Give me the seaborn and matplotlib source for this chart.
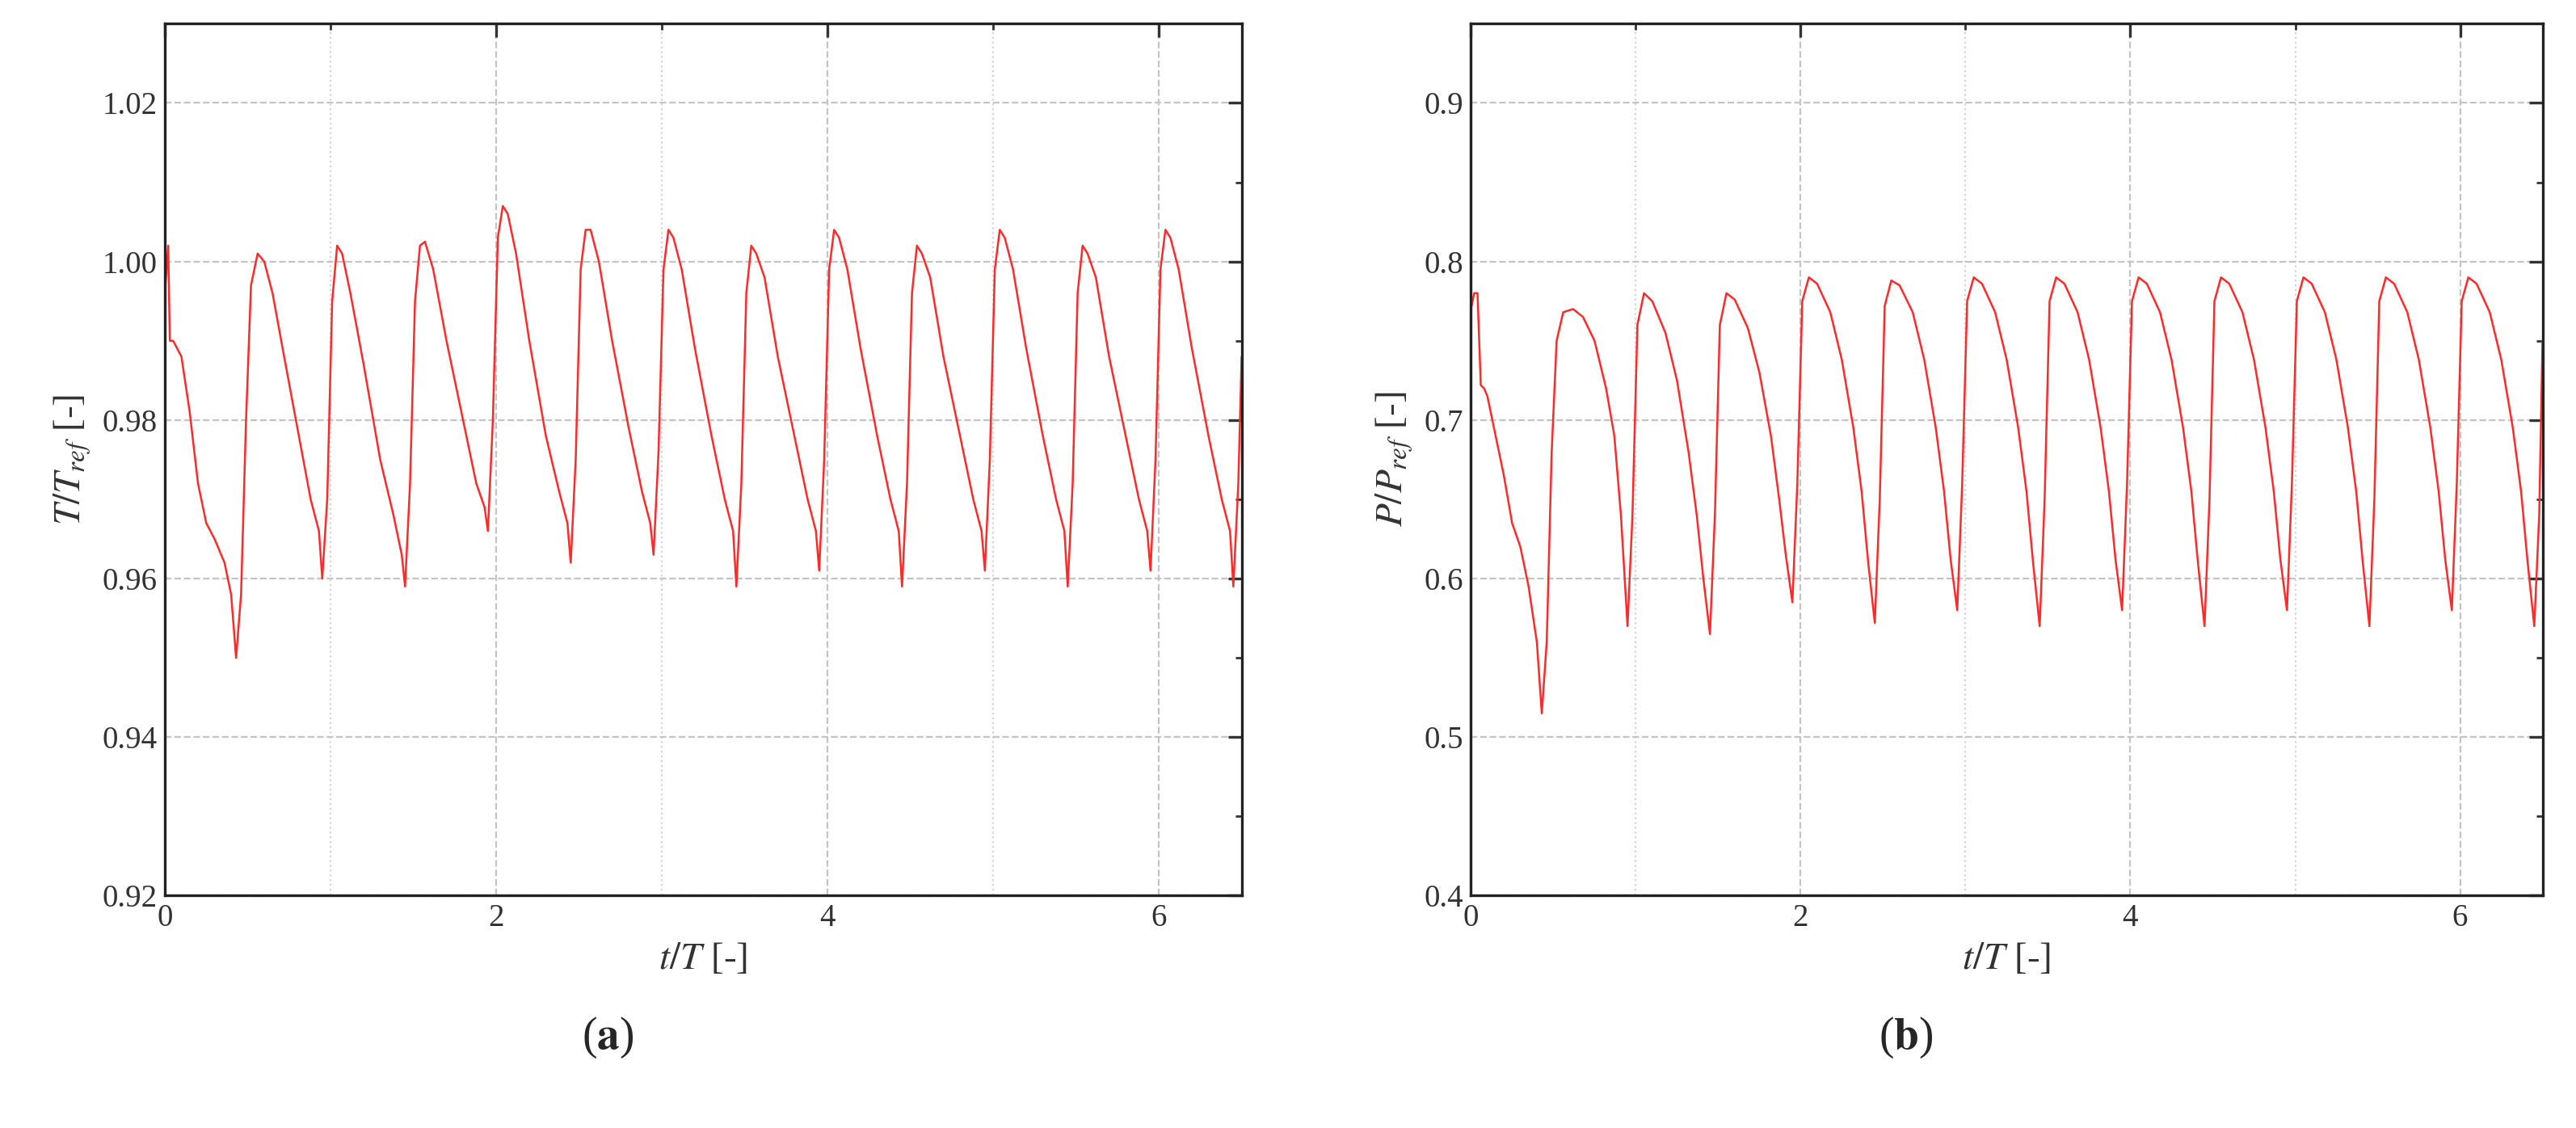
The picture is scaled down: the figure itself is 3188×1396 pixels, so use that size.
import numpy as np
import pandas as pd
import seaborn as sns
import matplotlib.pyplot as plt
from matplotlib.ticker import MultipleLocator

# (a) temperature ratio, keypoints
t_a = [0.0, 0.02, 0.03, 0.05, 0.1, 0.15, 0.2, 0.25, 0.3, 0.36, 0.4, 0.43, 0.46, 0.49, 0.52, 0.56, 0.6, 0.65, 0.72, 0.8, 0.88, 0.93, 0.95,
       0.98, 1.01, 1.04, 1.07, 1.12, 1.2, 1.3, 1.38, 1.43, 1.45,
       1.48, 1.51, 1.54, 1.57, 1.62, 1.7, 1.8, 1.88, 1.93, 1.95,
       1.98, 2.01, 2.04, 2.07, 2.12, 2.2, 2.3, 2.38, 2.43, 2.45,
       2.48, 2.51, 2.54, 2.57, 2.62, 2.7, 2.8, 2.88, 2.93, 2.95,
       2.98, 3.01, 3.04, 3.07, 3.12, 3.2, 3.3, 3.38, 3.43, 3.45,
       3.48, 3.51, 3.54, 3.57, 3.62, 3.7, 3.8, 3.88, 3.93, 3.95,
       3.98, 4.01, 4.04, 4.07, 4.12, 4.2, 4.3, 4.38, 4.43, 4.45,
       4.48, 4.51, 4.54, 4.57, 4.62, 4.7, 4.8, 4.88, 4.93, 4.95,
       4.98, 5.01, 5.04, 5.07, 5.12, 5.2, 5.3, 5.38, 5.43, 5.45,
       5.48, 5.51, 5.54, 5.57, 5.62, 5.7, 5.8, 5.88, 5.93, 5.95,
       5.98, 6.01, 6.04, 6.07, 6.12, 6.2, 6.3, 6.38, 6.43, 6.45, 6.48, 6.5]
y_a = [0.996, 1.002, 0.990, 0.990, 0.988, 0.981, 0.972, 0.967, 0.965, 0.962, 0.958, 0.950, 0.958, 0.980, 0.997, 1.001, 1.000, 0.996, 0.988, 0.979, 0.970, 0.966, 0.960,
       0.970, 0.995, 1.002, 1.001, 0.996, 0.987, 0.975, 0.968, 0.963, 0.959,
       0.972, 0.995, 1.002, 1.0025, 0.999, 0.990, 0.980, 0.972, 0.969, 0.966,
       0.980, 1.003, 1.007, 1.006, 1.001, 0.990, 0.978, 0.971, 0.967, 0.962,
       0.975, 0.999, 1.004, 1.004, 1.000, 0.990, 0.979, 0.971, 0.967, 0.963,
       0.976, 0.999, 1.004, 1.003, 0.999, 0.989, 0.978, 0.970, 0.966, 0.959,
       0.972, 0.996, 1.002, 1.001, 0.998, 0.988, 0.978, 0.970, 0.966, 0.961,
       0.975, 0.999, 1.004, 1.003, 0.999, 0.989, 0.978, 0.970, 0.966, 0.959,
       0.972, 0.996, 1.002, 1.001, 0.998, 0.988, 0.978, 0.970, 0.966, 0.961,
       0.975, 0.999, 1.004, 1.003, 0.999, 0.989, 0.978, 0.970, 0.966, 0.959,
       0.972, 0.996, 1.002, 1.001, 0.998, 0.988, 0.978, 0.970, 0.966, 0.961,
       0.975, 0.999, 1.004, 1.003, 0.999, 0.989, 0.978, 0.970, 0.966, 0.959, 0.972, 0.988]

# (b) power ratio
t_b = [0.0, 0.02, 0.04, 0.06, 0.08, 0.1, 0.15, 0.2, 0.25, 0.3, 0.35, 0.4, 0.43, 0.46, 0.49, 0.52, 0.56, 0.62, 0.68, 0.75, 0.82, 0.87, 0.91, 0.95,
       0.98, 1.01, 1.05, 1.1, 1.18, 1.25, 1.32, 1.37, 1.41, 1.45,
       1.48, 1.51, 1.55, 1.6, 1.68, 1.75, 1.82, 1.87, 1.91, 1.95,
       1.98, 2.01, 2.05, 2.1, 2.18, 2.25, 2.32, 2.37, 2.41, 2.45,
       2.48, 2.51, 2.55, 2.6, 2.68, 2.75, 2.82, 2.87, 2.91, 2.95,
       2.98, 3.01, 3.05, 3.1, 3.18, 3.25, 3.32, 3.37, 3.41, 3.45,
       3.48, 3.51, 3.55, 3.6, 3.68, 3.75, 3.82, 3.87, 3.91, 3.95,
       3.98, 4.01, 4.05, 4.1, 4.18, 4.25, 4.32, 4.37, 4.41, 4.45,
       4.48, 4.51, 4.55, 4.6, 4.68, 4.75, 4.82, 4.87, 4.91, 4.95,
       4.98, 5.01, 5.05, 5.1, 5.18, 5.25, 5.32, 5.37, 5.41, 5.45,
       5.48, 5.51, 5.55, 5.6, 5.68, 5.75, 5.82, 5.87, 5.91, 5.95,
       5.98, 6.01, 6.05, 6.1, 6.18, 6.25, 6.32, 6.37, 6.41, 6.45, 6.48, 6.5]
y_b = [0.770, 0.780, 0.780, 0.722, 0.720, 0.715, 0.690, 0.665, 0.635, 0.620, 0.595, 0.560, 0.515, 0.560, 0.680, 0.750, 0.768, 0.770, 0.765, 0.750, 0.720, 0.690, 0.640, 0.570,
       0.640, 0.760, 0.780, 0.775, 0.755, 0.725, 0.680, 0.640, 0.600, 0.565,
       0.640, 0.760, 0.780, 0.776, 0.758, 0.730, 0.690, 0.650, 0.615, 0.585,
       0.660, 0.775, 0.790, 0.786, 0.768, 0.738, 0.695, 0.655, 0.610, 0.572,
       0.650, 0.772, 0.788, 0.785, 0.768, 0.738, 0.695, 0.655, 0.612, 0.580,
       0.660, 0.775, 0.790, 0.786, 0.768, 0.738, 0.695, 0.655, 0.610, 0.570,
       0.650, 0.775, 0.790, 0.786, 0.768, 0.738, 0.695, 0.655, 0.612, 0.580,
       0.660, 0.775, 0.790, 0.786, 0.768, 0.738, 0.695, 0.655, 0.610, 0.570,
       0.650, 0.775, 0.790, 0.786, 0.768, 0.738, 0.695, 0.655, 0.612, 0.580,
       0.660, 0.775, 0.790, 0.786, 0.768, 0.738, 0.695, 0.655, 0.610, 0.570,
       0.650, 0.775, 0.790, 0.786, 0.768, 0.738, 0.695, 0.655, 0.612, 0.580,
       0.660, 0.775, 0.790, 0.786, 0.768, 0.738, 0.695, 0.655, 0.610, 0.570, 0.640, 0.750]

sns.set_theme(style="white")
plt.rcParams['font.family'] = ['Liberation Serif', 'DejaVu Serif']
plt.rcParams['mathtext.fontset'] = 'stix'

fig = plt.figure(figsize=(15.94, 6.98), dpi=200)
ax1 = fig.add_axes([0.064, 0.206, 0.418, 0.773])
ax2 = fig.add_axes([0.571, 0.206, 0.416, 0.773])

panels = [
    (ax1, t_a, y_a, (0.92, 1.03), 0.02, 0.01, r'$T/T_{ref}$ [-]', '{:.2f}'),
    (ax2, t_b, y_b, (0.4, 0.95), 0.1, 0.05, r'$P/P_{ref}$ [-]', '{:.1f}'),
]
for ax, t, y, ylim, ymaj, ymin, ylab, fmt in panels:
    df = pd.DataFrame({"t": t, "y": y})
    sns.lineplot(data=df, x="t", y="y", ax=ax, color="#ff2a2a", lw=0.9,
                 sort=False, estimator=None)
    ax.set_xlim(0, 6.5)
    ax.set_ylim(*ylim)
    ax.xaxis.set_major_locator(MultipleLocator(2))
    ax.xaxis.set_minor_locator(MultipleLocator(1))
    ax.yaxis.set_major_locator(MultipleLocator(ymaj))
    ax.yaxis.set_minor_locator(MultipleLocator(ymin))
    ax.set_yticklabels([fmt.format(v) for v in ax.get_yticks()])
    ax.grid(True, which='major', ls='--', color='#c4c4c4', lw=0.8)
    ax.grid(True, which='minor', axis='x', ls=':', color='#d4d4d4', lw=0.8)
    ax.tick_params(which='both', direction='in', top=True, right=True,
                   labelsize=14, colors='#333333')
    ax.tick_params(which='major', length=6, width=1.2)
    ax.tick_params(which='minor', length=3, width=1.0)
    for s in ax.spines.values():
        s.set_color('#222222')
        s.set_linewidth(1.2)
    ax.set_xlabel(r'$t/T$ [-]', fontsize=17, color='#333333')
    ax.set_ylabel(ylab, fontsize=17, color='#333333')
    ax.set_ylim(*ylim)

fig.text(0.236, 0.07, r'($\mathbf{a}$)', ha='center', fontsize=20)
fig.text(0.74, 0.07, r'($\mathbf{b}$)', ha='center', fontsize=20)
fig.savefig("out.png", dpi=200)
